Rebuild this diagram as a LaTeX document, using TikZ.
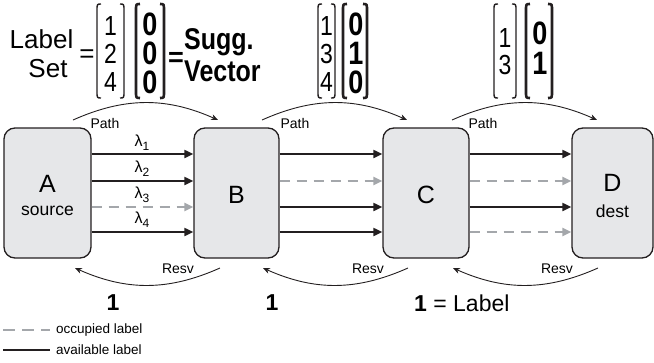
\documentclass[tikz,border=0pt]{standalone}
\usepackage{fontspec}
\setmainfont{Liberation Sans}
\usetikzlibrary{arrows.meta,calc}
\definecolor{boxfill}{HTML}{E6E7E9}
\definecolor{ink}{HTML}{231F20}
\definecolor{occ}{HTML}{A4A7AB}
\newcommand{\fsz}[1]{\fontsize{#1}{#1}\selectfont}
\newcommand{\dig}[1]{\scalebox{1}[1.2]{\fsz{23}#1}}
\newcommand{\bdig}[1]{\scalebox{1}[1.2]{\fsz{27}\bfseries #1}}
\newcommand{\tall}[1]{\scalebox{1}[1.2]{#1}}
\newcommand{\lam}[1]{\fsz{16}λ\raisebox{-4pt}{\fsz{12}#1}}
\begin{document}
\begin{tikzpicture}[x=1pt,y=1pt,
  nodebox/.style={draw=ink,line width=1.3pt,fill=boxfill,rounded corners=11pt,
    minimum height=130pt,inner sep=0pt},
  avail/.style={draw=ink,line width=2pt,-{Triangle[length=9pt,width=8pt]}},
  occup/.style={draw=occ,line width=2.5pt,dash pattern=on 10pt off 7pt,
    -{Triangle[length=9pt,width=8pt]}},
  smalllbl/.style={font=\fsz{14},inner sep=0pt},
  arcarrow/.style={draw=ink,line width=0.9pt,-{Stealth[length=7pt,width=6pt]}},
  bigtxt/.style={font=\fsz{26},inner sep=0pt},
  txt/.style={inner sep=0pt},
  brk/.style={draw=ink,line width=1.4pt},
  bbrk/.style={draw=ink,line width=2.6pt}]
\useasboundingbox (0,0) rectangle (654,-362);

% boxes
\node[nodebox,minimum width=87pt] (A) at (47.5,-193) {};
\node[nodebox,minimum width=85pt] (B) at (236.5,-193) {};
\node[nodebox,minimum width=86pt] (C) at (426,-193) {};
\node[nodebox,minimum width=81pt] (D) at (612.5,-193) {};
\node[txt,font=\fsz{25}] (Alab) at (47.5,-184) {A};
\node[txt,font=\fsz{17.5}] (Asrc) at (47.5,-211) {source};
\node[txt,font=\fsz{25}] (Blab) at (236.5,-195) {B};
\node[txt,font=\fsz{25}] (Clab) at (426,-195) {C};
\node[txt,font=\fsz{25}] (Dlab) at (612.5,-183) {D};
\node[txt,font=\fsz{17.5}] (Ddst) at (612.5,-211) {dest};

% rows
\coordinate (r1) at (0,-154);
\coordinate (r2) at (0,-181);
\coordinate (r3) at (0,-207);
\coordinate (r4) at (0,-232);

\draw[avail] (A.east |- r1) -- (B.west |- r1);
\draw[avail] (A.east |- r2) -- (B.west |- r2);
\draw[occup] (A.east |- r3) -- (B.west |- r3);
\draw[avail] (A.east |- r4) -- (B.west |- r4);

\draw[avail] (B.east |- r1) -- (C.west |- r1);
\draw[occup] (B.east |- r2) -- (C.west |- r2);
\draw[avail] (B.east |- r3) -- (C.west |- r3);
\draw[avail] (B.east |- r4) -- (C.west |- r4);

\draw[avail] (C.east |- r1) -- (D.west |- r1);
\draw[occup] (C.east |- r2) -- (D.west |- r2);
\draw[avail] (C.east |- r3) -- (D.west |- r3);
\draw[occup] (C.east |- r4) -- (D.west |- r4);

\node[txt] (l1) at (142,-143) {\lam{1}};
\node[txt] (l2) at (142,-169) {\lam{2}};
\node[txt] (l3) at (142,-195) {\lam{3}};
\node[txt] (l4) at (142,-220) {\lam{4}};

% path arcs
\coordinate (p1a) at (73,-120);  \coordinate (p1b) at (218,-120);
\coordinate (p2a) at (262,-120); \coordinate (p2b) at (407,-120);
\coordinate (p3a) at (452,-120); \coordinate (p3b) at (597,-120);
\draw[arcarrow] (p1a) to[bend left=24] (p1b);
\draw[arcarrow] (p2a) to[bend left=24] (p2b);
\draw[arcarrow] (p3a) to[bend left=24] (p3b);
\node[smalllbl] (pl1) at (105,-123) {Path};
\node[smalllbl] (pl2) at (295,-123) {Path};
\node[smalllbl] (pl3) at (483,-123) {Path};

% resv arcs
\coordinate (q1a) at (220,-268); \coordinate (q1b) at (75,-268);
\coordinate (q2a) at (408,-268); \coordinate (q2b) at (263,-268);
\coordinate (q3a) at (598,-268); \coordinate (q3b) at (453,-268);
\draw[arcarrow] (q1a) to[bend left=24] (q1b);
\draw[arcarrow] (q2a) to[bend left=24] (q2b);
\draw[arcarrow] (q3a) to[bend left=24] (q3b);
\node[smalllbl] (rl1) at (178,-269) {Resv};
\node[smalllbl] (rl2) at (368,-269) {Resv};
\node[smalllbl] (rl3) at (557,-269) {Resv};

% bottom labels
\node[txt,font=\fsz{23}\bfseries] (b1) at (113,-303) {1};
\node[txt,font=\fsz{23}\bfseries] (b2) at (272,-303) {1};
\node[txt,font=\fsz{23},anchor=west] (b3) at (414,-303) {\textbf{1} = Label};

% legend
\coordinate (g1a) at (3,-330); \coordinate (g1b) at (50,-330);
\coordinate (g2a) at (3,-350); \coordinate (g2b) at (50,-350);
\draw[draw=occ,line width=2.5pt,dash pattern=on 12pt off 7pt] (g1a) -- (g1b);
\draw[draw=ink,line width=2pt] (g2a) -- (g2b);
\node[smalllbl,font=\fsz{13.5},anchor=west] (gt1) at (56,-330) {occupied label};
\node[smalllbl,font=\fsz{13.5},anchor=west] (gt2) at (56,-350) {available label};

% top: label set / suggested vector
\node[bigtxt,anchor=base] (lbl) at (41.5,-48) {Label};
\node[bigtxt,anchor=base] (set) at (48,-77) {Set};
\node[bigtxt] (eq1) at (87,-56) {=};

\tikzset{
  lbr/.pic={\draw[pic actions] (4,0) .. controls (0,0) .. (0,-7) -- (0,-87) .. controls (0,-94) .. (4,-94);},
  rbr/.pic={\draw[pic actions] (-4,0) .. controls (0,0) .. (0,-7) -- (0,-87) .. controls (0,-94) .. (-4,-94);}
}
% group 1
\pic[brk] at (97,-4) {lbr};
\pic[brk] at (124,-4) {rbr};
\node[txt] (m11) at (110.5,-26) {\dig{1}};
\node[txt] (m12) at (110.5,-54) {\dig{2}};
\node[txt] (m13) at (110.5,-82) {\dig{4}};
\pic[bbrk] at (136,-4) {lbr};
\pic[bbrk] at (164,-4) {rbr};
\node[txt] (v11) at (150,-24) {\bdig{0}};
\node[txt] (v12) at (150,-53) {\bdig{0}};
\node[txt] (v13) at (150,-82) {\bdig{0}};
\node[txt,font=\fsz{27}\bfseries] (eq2) at (176,-59) {=};
\node[txt,font=\fsz{25}\bfseries,anchor=base west] (sugg) at (184,-49) {\tall{Sugg.}};
\node[txt,font=\fsz{25}\bfseries,anchor=base west] (vec) at (184,-81) {\tall{Vector}};

% group 2
\pic[brk] at (318,-4) {lbr};
\pic[brk] at (335,-4) {rbr};
\node[txt] (m21) at (326.5,-26) {\dig{1}};
\node[txt] (m22) at (326.5,-54) {\dig{3}};
\node[txt] (m23) at (326.5,-82) {\dig{4}};
\pic[bbrk] at (343,-4) {lbr};
\pic[bbrk] at (367,-4) {rbr};
\node[txt] (v21) at (356,-24) {\bdig{0}};
\node[txt] (v22) at (356,-53) {\bdig{1}};
\node[txt] (v23) at (356,-82) {\bdig{0}};

% group 3
\pic[brk] at (494,-4) {lbr};
\pic[brk] at (516,-4) {rbr};
\node[txt] (m31) at (505,-38) {\dig{1}};
\node[txt] (m32) at (505,-65) {\dig{3}};
\pic[bbrk] at (526,-4) {lbr};
\pic[bbrk] at (552,-4) {rbr};
\node[txt] (v31) at (540,-33) {\bdig{0}};
\node[txt] (v32) at (540,-63) {\bdig{1}};
\end{tikzpicture}
\end{document}
